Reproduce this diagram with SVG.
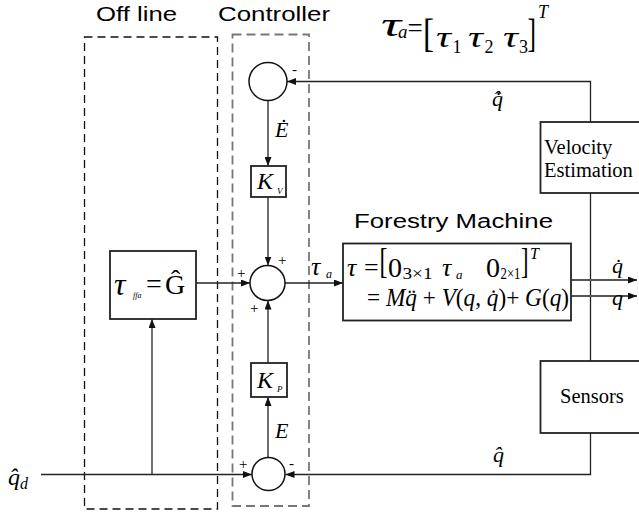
<svg xmlns="http://www.w3.org/2000/svg" width="639" height="517" viewBox="0 0 639 517">
<style>
.sans{font-family:"Liberation Sans",Arial,sans-serif;font-size:20px;font-weight:normal;fill:#000}
.ser{font-family:"Liberation Serif","Times New Roman",serif;fill:#000}
.it{font-style:italic}
.blk{fill:#fff;stroke:#222;stroke-width:1.8}
.sum{fill:#fff;stroke:#111;stroke-width:1.5}
.ln{fill:none;stroke:#222;stroke-width:1.3}
.out{fill:none;stroke:#555;stroke-width:2}
.sg{font-family:"Liberation Serif","Times New Roman",serif;font-size:15px;fill:#000}
</style>
<defs>
<marker id="ah" markerUnits="userSpaceOnUse" markerWidth="9" markerHeight="7" refX="9" refY="3.5" orient="auto">
<path d="M0,0 L9,3.5 L0,7 z" fill="#111"/>
</marker>
</defs>

<g id="regions">
<rect id="offline-region" x="84.5" y="37" width="133" height="472" fill="none" stroke="#111" stroke-width="1.3" stroke-dasharray="8,5"/>
<rect id="controller-region" x="232.5" y="34.5" width="76.5" height="471.5" fill="none" stroke="#777" stroke-width="1.8" stroke-dasharray="9,5"/>
<text class="sans" x="96" y="21" font-size="19.5" textLength="81" lengthAdjust="spacingAndGlyphs">Off line</text>
<text class="sans" x="218" y="21" font-size="19.5" textLength="112" lengthAdjust="spacingAndGlyphs">Controller</text>
</g>

<g id="tau-a-def">
<text class="ser it" x="381" y="36" font-size="34" textLength="20" lengthAdjust="spacingAndGlyphs">τ</text>
<text class="ser it" x="398" y="38" font-size="19">a</text>
<text class="ser" x="407.5" y="36.5" font-size="27">=</text>
<text class="ser" x="423" y="46.5" font-size="41" textLength="11" lengthAdjust="spacingAndGlyphs">[</text>
<text class="ser it" x="436" y="47" font-size="30" textLength="15" lengthAdjust="spacingAndGlyphs">τ</text>
<text class="ser" x="452.5" y="53" font-size="18">1</text>
<text class="ser it" x="468" y="47" font-size="30" textLength="15" lengthAdjust="spacingAndGlyphs">τ</text>
<text class="ser" x="484.5" y="53" font-size="18">2</text>
<text class="ser it" x="503" y="47" font-size="30" textLength="15" lengthAdjust="spacingAndGlyphs">τ</text>
<text class="ser" x="519" y="53" font-size="18">3</text>
<text class="ser" x="527.5" y="46.5" font-size="41" textLength="8.5" lengthAdjust="spacingAndGlyphs">]</text>
<text class="ser it" x="538" y="18" font-size="18">T</text>
</g>

<g id="connectors">
<path class="ln" d="M590.5,122 V81.5 H287" marker-end="url(#ah)"/>
<path class="ln" d="M268,100.5 V166" marker-end="url(#ah)"/>
<path class="ln" d="M268,197 V265.5" marker-end="url(#ah)"/>
<path class="ln" d="M196,283 H250" marker-end="url(#ah)"/>
<path class="ln" d="M285,283 H343" marker-end="url(#ah)"/>
<path class="ln" d="M268,363 V300.5" marker-end="url(#ah)"/>
<path class="ln" d="M268,457 V397" marker-end="url(#ah)"/>
<path class="ln" d="M41,474.5 H252" marker-end="url(#ah)"/>
<path class="ln" d="M152,474.5 V319" marker-end="url(#ah)"/>
<path class="ln" d="M590.5,433 V474.5 H285.5" marker-end="url(#ah)"/>
<path class="ln" d="M590.5,193 V361"/>
<path class="out" d="M571,280 H637" marker-end="url(#ah)"/>
<path class="out" d="M571,296 H637" marker-end="url(#ah)"/>
</g>

<g id="labels">
<text class="sg" x="292" y="74">-</text>
<text class="ser it" x="492" y="106" font-size="22">q̂̇</text>
<text class="ser it" x="275" y="137" font-size="22">Ė</text>
<text class="sg" x="278" y="265">+</text>
<text class="sg" x="237" y="278">+</text>
<text class="sg" x="250" y="313">+</text>
<text class="ser it" x="311" y="275" font-size="26">τ</text>
<text class="ser it" x="326" y="278" font-size="12">a</text>
<text class="ser it" x="275" y="438" font-size="22">E</text>
<text class="sg" x="239" y="469">+</text>
<text class="sg" x="289" y="468">-</text>
<text class="ser it" x="493" y="462" font-size="22">q̂</text>
<text class="ser it" x="8" y="485" font-size="24">q̂</text>
<text class="ser it" x="20" y="489" font-size="16">d</text>
<text class="ser it" x="612" y="273" font-size="22">q̇</text>
<text class="ser it" x="612" y="305" font-size="22">q</text>
</g>

<g id="sum-top"><circle class="sum" cx="268" cy="81.5" r="19"/></g>
<g id="sum-mid"><circle class="sum" cx="267.5" cy="283" r="17.5"/></g>
<g id="sum-bot"><circle class="sum" cx="268.5" cy="474" r="16.5"/></g>

<g id="kv">
<rect class="blk" x="251" y="166" width="35" height="31"/>
<text class="ser it" x="257" y="189" font-size="24">K</text>
<text class="ser it" x="277" y="194" font-size="9">V</text>
</g>

<g id="kp">
<rect class="blk" x="251" y="363" width="36" height="34"/>
<text class="ser it" x="257" y="388" font-size="24">K</text>
<text class="ser it" x="277" y="392" font-size="9">P</text>
</g>

<g id="feedforward">
<rect class="blk" x="110" y="251" width="86" height="68"/>
<text class="ser it" x="114" y="295" font-size="32">τ</text>
<text class="ser it" x="133" y="298" font-size="8">ffa</text>
<text class="ser" x="146" y="293" font-size="28">=</text>
<text class="ser" x="165" y="294" font-size="28">Ĝ</text>
</g>

<g id="forestry-machine">
<text class="sans" x="354" y="228" font-size="20" textLength="199" lengthAdjust="spacingAndGlyphs">Forestry Machine</text>
<rect class="blk" x="343" y="243.5" width="228" height="77"/>
<text class="ser it" x="347" y="276" font-size="26">τ</text>
<text class="ser" x="364" y="276" font-size="26">=</text>
<text class="ser" x="379.5" y="273" font-size="35" textLength="8" lengthAdjust="spacingAndGlyphs">[</text>
<text class="ser" x="388" y="277" font-size="28">0</text>
<text class="ser" x="402.5" y="279" font-size="16" textLength="30" lengthAdjust="spacingAndGlyphs">3×1</text>
<text class="ser it" x="442" y="276" font-size="26">τ</text>
<text class="ser it" x="456" y="279" font-size="13">a</text>
<text class="ser" x="486" y="277" font-size="28">0</text>
<text class="ser" x="500.5" y="279" font-size="16" textLength="20" lengthAdjust="spacingAndGlyphs">2×1</text>
<text class="ser" x="521" y="273" font-size="35" textLength="7.5" lengthAdjust="spacingAndGlyphs">]</text>
<text class="ser it" x="530" y="259" font-size="16">T</text>
<text class="ser" x="367" y="306" font-size="25" textLength="202" lengthAdjust="spacingAndGlyphs">= <tspan class="it">Mq̈</tspan> + <tspan class="it">V</tspan>(<tspan class="it">q</tspan>, <tspan class="it">q̇</tspan>)+ <tspan class="it">G</tspan>(<tspan class="it">q</tspan>)</text>
</g>

<g id="velocity-estimation">
<rect class="blk" x="540.5" y="122" width="102" height="71"/>
<text class="ser" x="544" y="154" font-size="20.5">Velocity</text>
<text class="ser" x="544" y="177" font-size="20.5">Estimation</text>
</g>

<g id="sensors">
<rect class="blk" x="540.5" y="361" width="102" height="72"/>
<text class="ser" x="560" y="403" font-size="20.5">Sensors</text>
</g>
</svg>
